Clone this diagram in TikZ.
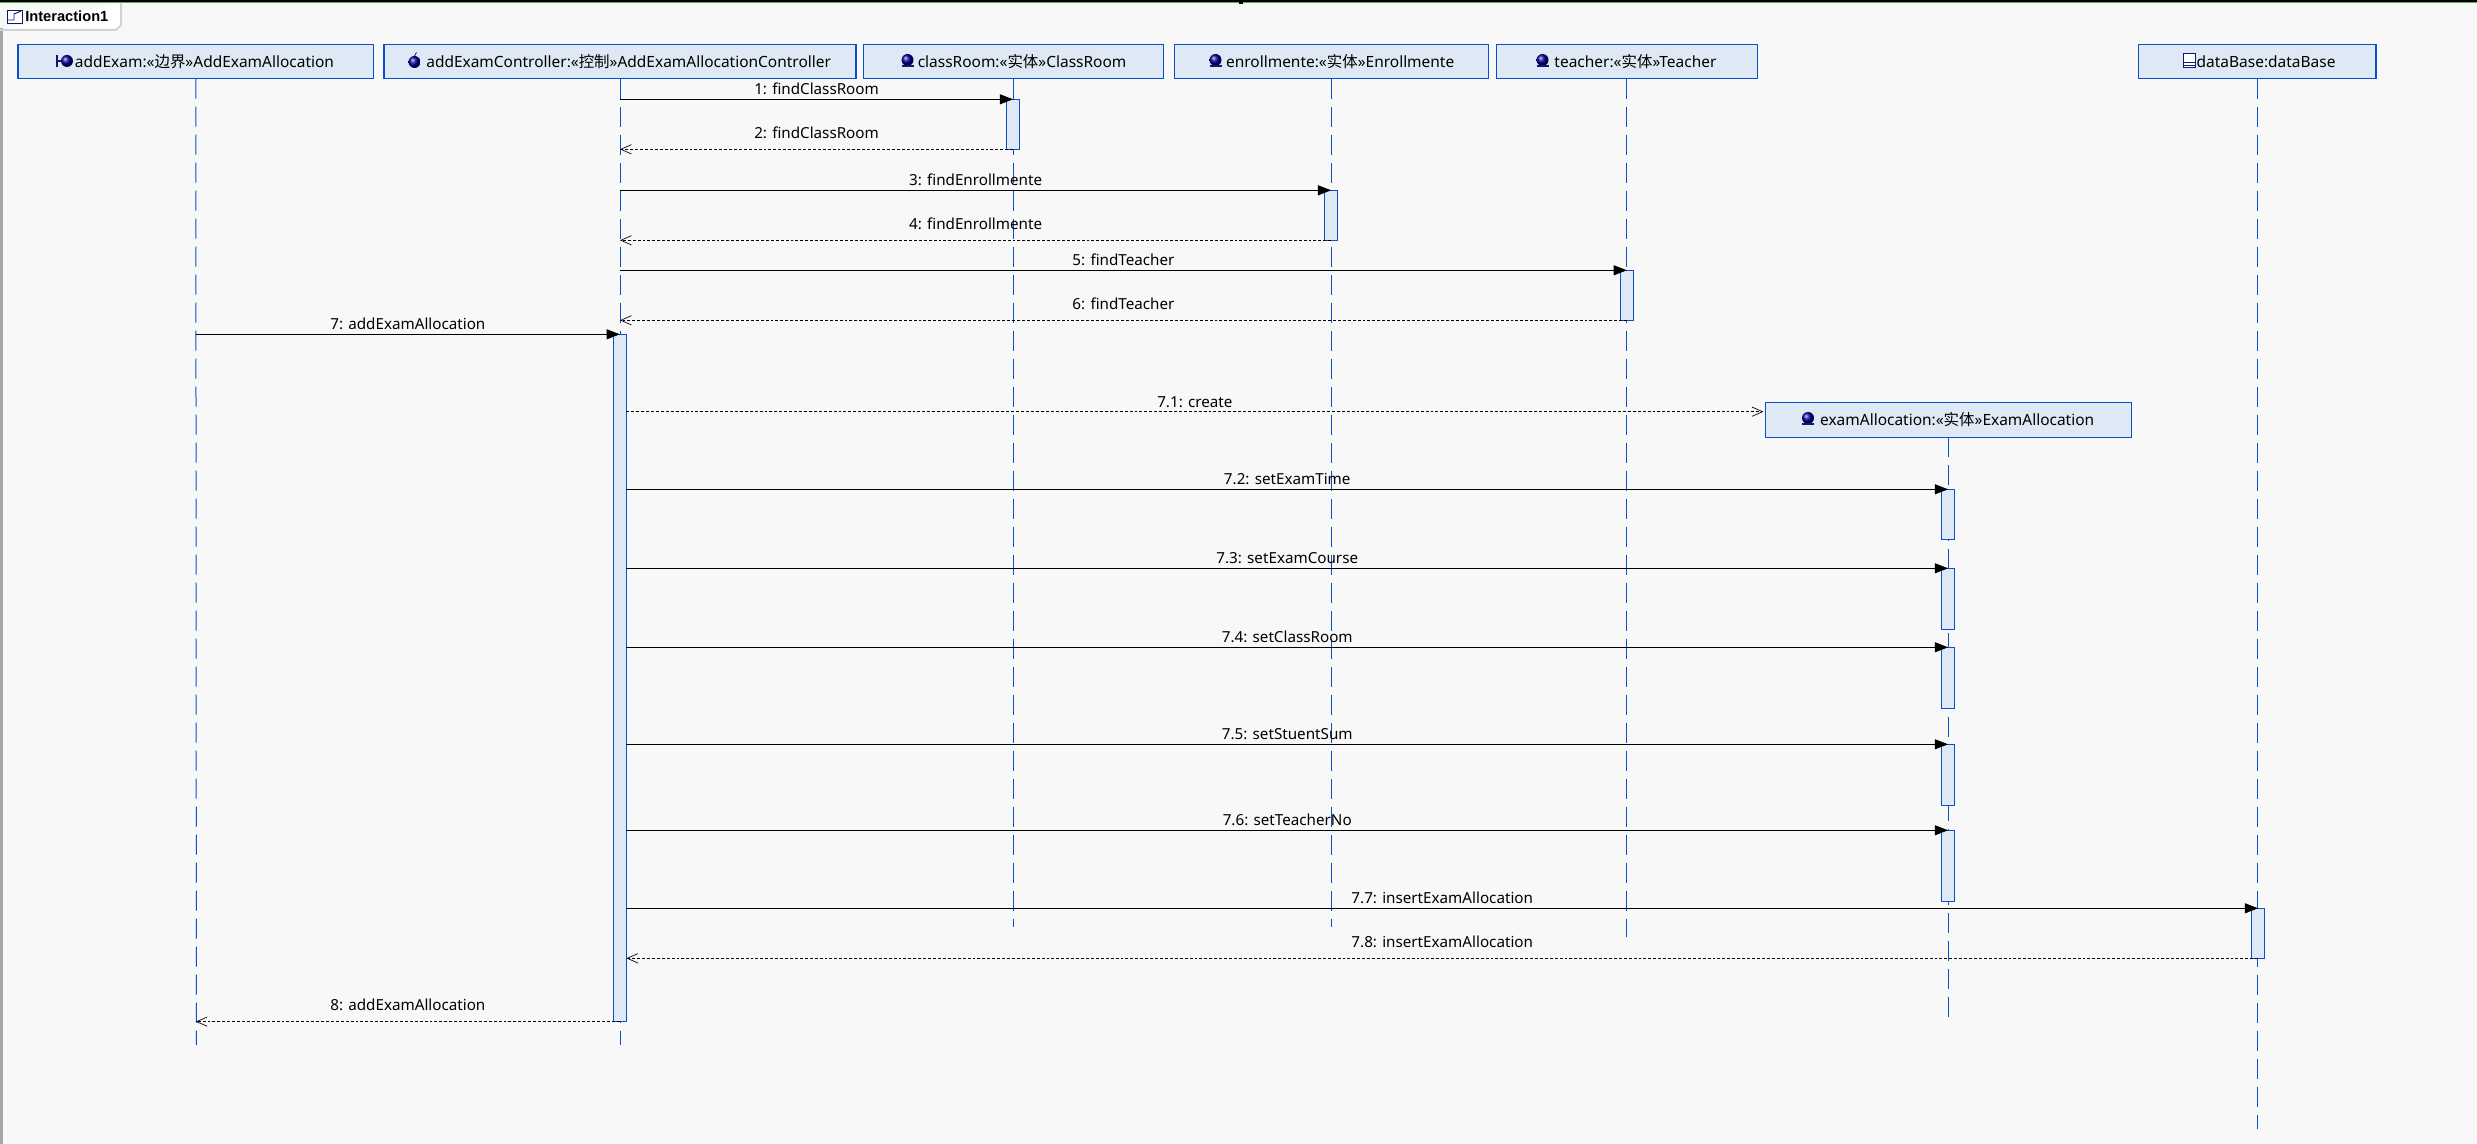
\documentclass[tikz,border=0pt]{standalone}
\usepackage{fontspec}
\setmainfont{Noto Sans}
\newfontfamily\cjk{Noto Sans CJK SC}
\newfontfamily\tabfont{Liberation Sans}
\usetikzlibrary{arrows.meta}
\definecolor{pagebg}{HTML}{F8F8F8}
\definecolor{umlblue}{HTML}{0A50C8}
\definecolor{umlfill}{HTML}{DEE9F5}
\definecolor{umlnavy}{HTML}{0A1A6E}
\begin{document}
\begin{tikzpicture}[x=0.75pt,y=-0.75pt,
head/.style={
	rectangle,draw=umlblue,fill=umlfill,line width=0.9pt,
	minimum height=25.8pt,inner sep=0pt,outer sep=0pt,
	font=\fontsize{11.6}{13}\selectfont},
bar/.style={
	rectangle,draw=umlblue,fill=umlfill,line width=0.75pt,anchor=north,
	minimum width=9.75pt,inner sep=0pt,outer sep=0pt},
life/.style={umlblue,line width=0.75pt,dash pattern=on 15pt off 6pt},
call/.style={black,line width=0.8pt,-{Triangle[length=10pt,width=7.5pt]}},
reply/.style={black,line width=0.8pt,dash pattern=on 2.2pt off 1.5pt,
	-{Straight Barb[length=8pt,width=7pt,line width=0.5pt]}},
msg/.style={above=3pt,inner sep=0pt,text height=9pt,text depth=0pt,
	font=\fontsize{11.4}{13}\selectfont},
msgback/.style={msg,above=5pt},
entityicon/.pic={\shade[ball color=blue!60!black] (0,0) circle (6);
	\draw[umlnavy,line width=0.9pt] (-6,6) -- (6,6);},
controlicon/.pic={\shade[ball color=blue!60!black] (0,1) circle (6);
	\draw[umlnavy,line width=0.6pt] (0,-5) -- (2,-8.5);},
boundaryicon/.pic={\shade[ball color=blue!60!black] (2,0) circle (6);
	\draw[umlnavy,line width=0.9pt] (-8,-6) -- (-8,6) (-8,0) -- (-4,0);},
dbicon/.pic={\draw[umlnavy,line width=0.9pt,fill=white] (-6,-7) rectangle (6,7);
	\draw[umlnavy,line width=0.9pt] (-6,2) -- (6,2) (-6,4.8) -- (6,4.8);}
]
\useasboundingbox (0,0) rectangle (2477,1144);
\fill[pagebg] (0,0) rectangle (2477,1144);
\fill[black] (0,0) rectangle (2477,2);
\fill[green!40!gray] (0,2) rectangle (2477,3);
\fill[black] (1239,0) rectangle (1243,4);
\fill[gray!70] (0,28) rectangle (2.5,1144);

% tab
\draw[draw=gray!35,fill=white,line width=1.5pt] (0,30) -- (116,30) -- (121,25) -- (121,3);
\draw[umlnavy,fill=white,line width=0.7pt] (7,10) rectangle (22,23);
\draw[umlnavy,line width=0.7pt] (8,20) -- (14,20) -- (14,14) -- (21,11);
\node[anchor=west,inner sep=0pt,font=\tabfont\fontsize{11}{13}\selectfont\bfseries] (tabTitle) at (25,16.5) {Interaction1};

% lifeline heads
\node[head,minimum width=266.7pt] (boundHead) at (195.8,61.5) {\hspace*{13pt}addExam:«{\cjk 边界}»AddExamAllocation};
\node[head,minimum width=354pt] (ctrlHead) at (620,61.5) {\hspace*{13pt}addExamController:«{\cjk 控制}»AddExamAllocationController};
\node[head,minimum width=225pt] (classHead) at (1013.4,61.5) {\hspace*{13pt}classRoom:«{\cjk 实体}»ClassRoom};
\node[head,minimum width=236pt] (enrollHead) at (1331.5,61.5) {\hspace*{13pt}enrollmente:«{\cjk 实体}»Enrollmente};
\node[head,minimum width=196pt] (teacherHead) at (1626.8,61.5) {\hspace*{13pt}teacher:«{\cjk 实体}»Teacher};
\node[head,minimum width=178pt] (dbHead) at (2257.4,61.5) {\hspace*{13pt}dataBase:dataBase};
\node[head,minimum width=274.6pt] (examHead) at (1948.5,420) {\hspace*{13pt}examAllocation:«{\cjk 实体}»ExamAllocation};

\pic at (65,61) {boundaryicon};
\pic at (414.5,61) {controlicon};
\pic at (907.5,60) {entityicon};
\pic at (1215.5,60) {entityicon};
\pic at (1542.5,60) {entityicon};
\pic at (2189.5,60.5) {dbicon};
\pic at (1808,418) {entityicon};

% lifeline ends
\coordinate (boundEnd) at (196.4,1045);
\coordinate (ctrlEnd) at (620,1045);
\coordinate (classEnd) at (1013.4,926.7);
\coordinate (enrollEnd) at (1331.5,926.7);
\coordinate (teacherEnd) at (1626.8,936.7);
\coordinate (examEnd) at (1948.5,1017.3);
\coordinate (dbEnd) at (2257.4,1129.3);
\draw[life] (boundHead.south) -- (boundEnd);
\draw[life] (ctrlHead.south) -- (ctrlEnd);
\draw[life] (classHead.south) -- (classEnd);
\draw[life] (enrollHead.south) -- (enrollEnd);
\draw[life] (teacherHead.south) -- (teacherEnd);
\draw[life] (examHead.south) -- (examEnd);
\draw[life] (dbHead.south) -- (dbEnd);

% activations
\node[bar,minimum height=37.5pt] (classBar) at (1013.1,99.3) {};
\node[bar,minimum height=37.5pt] (enrollBar) at (1331.2,190.3) {};
\node[bar,minimum height=37.5pt] (teacherBar) at (1626.9,270.3) {};
\node[bar,minimum height=515.5pt] (ctrlBar) at (619.9,334.3) {};
\node[bar,minimum height=37.5pt] (timeBar) at (1948.1,489.3) {};
\node[bar,minimum height=45.8pt] (courseBar) at (1948.1,568.3) {};
\node[bar,minimum height=45.8pt] (roomBar) at (1948.1,647.3) {};
\node[bar,minimum height=45.8pt] (sumBar) at (1948.1,744.3) {};
\node[bar,minimum height=53.2pt] (noBar) at (1948.1,830.3) {};
\node[bar,minimum height=37.5pt] (dbBar) at (2258.1,908.3) {};

% messages
\draw[call] (ctrlHead |- classBar.north) -- node[msg]{1: findClassRoom} (classBar.north);
\draw[reply] (classBar.south) -- node[msgback]{2: findClassRoom} (ctrlHead |- classBar.south);
\draw[call] (ctrlHead |- enrollBar.north) -- node[msg]{3: findEnrollmente} (enrollBar.north);
\draw[reply] (enrollBar.south) -- node[msgback]{4: findEnrollmente} (ctrlHead |- enrollBar.south);
\draw[call] (ctrlHead |- teacherBar.north) -- node[msg]{5: findTeacher} (teacherBar.north);
\draw[reply] (teacherBar.south) -- node[msgback]{6: findTeacher} (ctrlHead |- teacherBar.south);
\draw[call] (boundHead |- ctrlBar.north) -- node[msg]{7: addExamAllocation} (ctrlBar.north);
\coordinate (createEnd) at (1763.4,411.7);
\draw[reply] (ctrlBar.east |- createEnd) -- node[msg]{7.1: create} (createEnd);
\draw[call] (ctrlBar.east |- timeBar.north) -- node[msg]{7.2: setExamTime} (timeBar.north);
\draw[call] (ctrlBar.east |- courseBar.north) -- node[msg]{7.3: setExamCourse} (courseBar.north);
\draw[call] (ctrlBar.east |- roomBar.north) -- node[msg]{7.4: setClassRoom} (roomBar.north);
\draw[call] (ctrlBar.east |- sumBar.north) -- node[msg]{7.5: setStuentSum} (sumBar.north);
\draw[call] (ctrlBar.east |- noBar.north) -- node[msg]{7.6: setTeacherNo} (noBar.north);
\draw[call] (ctrlBar.east |- dbBar.north) -- node[msg]{7.7: insertExamAllocation} (dbBar.north);
\draw[reply] (dbBar.south) -- node[msgback]{7.8: insertExamAllocation} (ctrlBar.east |- dbBar.south);
\draw[reply] (ctrlBar.south) -- node[msgback]{8: addExamAllocation} (boundHead |- ctrlBar.south);
\end{tikzpicture}
\end{document}
